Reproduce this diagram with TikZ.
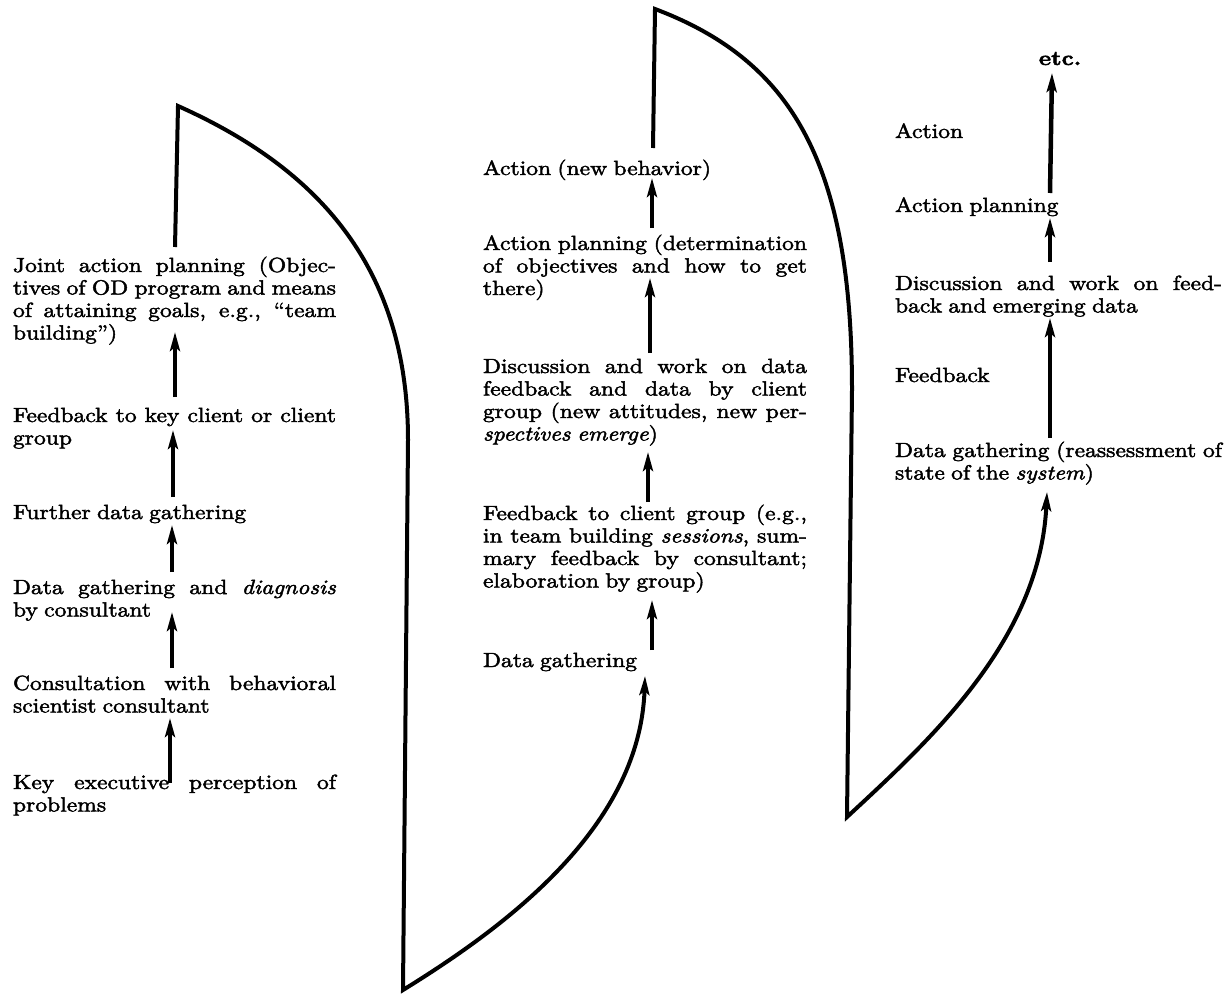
\documentclass[tikz,border=0pt]{standalone}
\usepackage{fontspec}
\setmainfont{lmroman10-regular.otf}[FakeStretch=1.15, WordSpace=0.8, FakeBold=2.2, ItalicFont=lmroman10-italic.otf, BoldFont=lmroman10-bold.otf]
\usetikzlibrary{arrows.meta}
\tolerance=10000
\hbadness=10000
\hfuzz=20pt
\newcommand\blocktext[2]{\parbox[t]{#1}{\fontsize{20.5}{22.5}\selectfont #2}}
\tikzset{
  txt/.style={anchor=base west, inner sep=0pt, outer sep=0pt},
  arr/.style={line width=4.5pt, -{Stealth[length=19pt,width=10pt,inset=4pt]}},
  loopline/.style={line width=4pt, line join=miter, -{Stealth[length=19pt,width=10pt,inset=4pt]}}
}
\begin{document}
\begin{tikzpicture}[x=1pt,y=-1pt]
\path[use as bounding box] (0,0) rectangle (1229,1004);
% ---------- column 1 ----------
\node[txt] (joint) at (13,272) {\blocktext{323pt}{Joint action planning (Objec-\linebreak tives of OD program and means\linebreak of attaining goals, e.g., ``team\linebreak building'')}};
\node[txt] (fb1) at (13,422) {\blocktext{323pt}{Feedback to key client or client\linebreak group}};
\node[txt] (fdg1) at (13,519) {\blocktext{323pt}{Further data gathering}};
\node[txt] (dgd1) at (13,594) {\blocktext{323pt}{Data gathering and \textit{diagnosis}\linebreak by consultant}};
\node[txt] (cons1) at (13,690) {\blocktext{323pt}{Consultation with behavioral\linebreak scientist consultant}};
\node[txt] (key1) at (13,789) {\blocktext{323pt}{Key executive perception of\linebreak problems}};
% ---------- column 2 ----------
\node[txt] (act2) at (483,175) {\blocktext{324pt}{Action (new behavior)}};
\node[txt] (ap2) at (483,250) {\blocktext{324pt}{Action planning (determination\linebreak of objectives and how to get\linebreak there)}};
\node[txt] (disc2) at (483,373) {\blocktext{324pt}{Discussion and work on data\linebreak feedback and data by client\linebreak group (new attitudes, new per-\linebreak \textit{spectives emerge})}};
\node[txt] (fb2) at (483,520) {\blocktext{324pt}{Feedback to client group (e.g.,\linebreak in team building \textit{sessions}, sum-\linebreak mary feedback by consultant;\linebreak elaboration by group)}};
\node[txt] (dg2) at (483,667) {\blocktext{324pt}{Data gathering}};
% ---------- column 3 ----------
\node[anchor=base, inner sep=0pt] (etc3) at (1060,65) {\fontsize{20.5}{22.5}\selectfont\textbf{etc.}};
\node[txt] (act3) at (895,138) {\blocktext{327pt}{Action}};
\node[txt] (ap3) at (895,212) {\blocktext{327pt}{Action planning}};
\node[txt] (disc3) at (895,290) {\blocktext{327pt}{Discussion and work on feed-\linebreak back and emerging data}};
\node[txt] (fb3) at (895,382) {\blocktext{327pt}{Feedback}};
\node[txt] (dg3) at (895,457) {\blocktext{327pt}{Data gathering (reassessment of\linebreak state of the \textit{system})}};
% ---------- arrow end points ----------
\coordinate (k1t) at (170,783);  \coordinate (k1h) at (170,718);
\coordinate (c1t) at (172,668);  \coordinate (c1h) at (172,612);
\coordinate (d1t) at (172,572);  \coordinate (d1h) at (172,525);
\coordinate (f1t) at (173,497);  \coordinate (f1h) at (173,430);
\coordinate (b1t) at (175,397);  \coordinate (b1h) at (175,332);
\coordinate (j1t) at (175,247);  \coordinate (top1) at (178,106);
\coordinate (side1) at (408,440); \coordinate (bot1) at (403,990);
\coordinate (dg2h) at (645,676);
\coordinate (d2t) at (652,650);  \coordinate (d2h) at (652,600);
\coordinate (f2t) at (648,502);  \coordinate (f2h) at (648,452);
\coordinate (s2t) at (650,353);  \coordinate (s2h) at (650,278);
\coordinate (p2t) at (652,228);  \coordinate (p2h) at (652,178);
\coordinate (a2t) at (653,148);  \coordinate (top2) at (655,9);
\coordinate (side2) at (852,390); \coordinate (bot2) at (847,817);
\coordinate (dg3h) at (1047,492);
\coordinate (f3t) at (1050,438); \coordinate (f3h) at (1050,318);
\coordinate (p3t) at (1050,262); \coordinate (p3h) at (1050,218);
\coordinate (e3t) at (1050,193); \coordinate (e3h) at (1052,73);
% ---------- arrows column 1 ----------
\draw[arr] (k1t) -- (k1h);
\draw[arr] (c1t) -- (c1h);
\draw[arr] (d1t) -- (d1h);
\draw[arr] (f1t) -- (f1h);
\draw[arr] (b1t) -- (b1h);
\draw[loopline] (j1t) -- (top1) .. controls (310,165) and (408,260) .. (side1) -- (bot1) .. controls (500,930) and (640,830) .. (dg2h);
% ---------- arrows column 2 ----------
\draw[arr] (d2t) -- (d2h);
\draw[arr] (f2t) -- (f2h);
\draw[arr] (s2t) -- (s2h);
\draw[arr] (p2t) -- (p2h);
\draw[loopline] (a2t) -- (top2) .. controls (790,60) and (852,160) .. (side2) -- (bot2) .. controls (930,740) and (1040,640) .. (dg3h);
% ---------- arrows column 3 ----------
\draw[arr] (f3t) -- (f3h);
\draw[arr] (p3t) -- (p3h);
\draw[arr] (e3t) -- (e3h);
\end{tikzpicture}
\end{document}
